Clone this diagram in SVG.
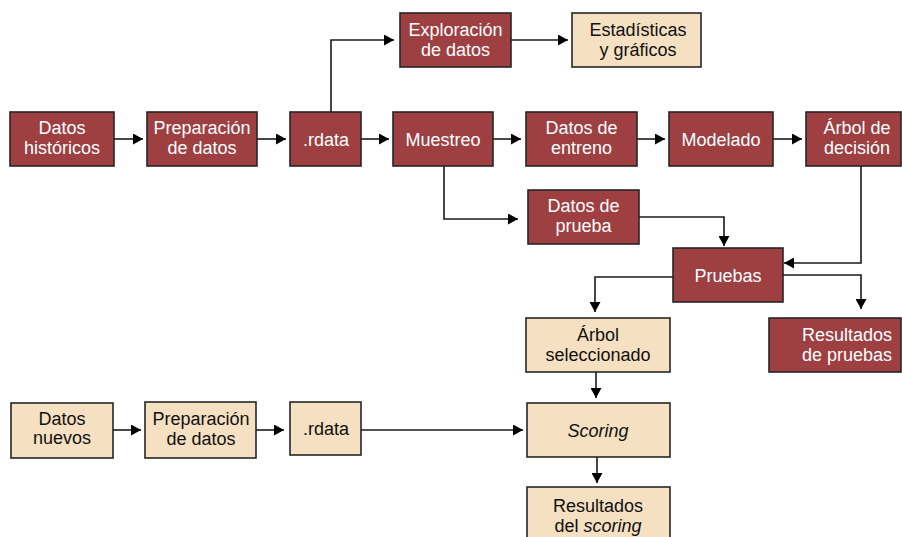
<svg xmlns="http://www.w3.org/2000/svg" width="902" height="537" viewBox="0 0 902 537">
  <style>
    .box { stroke: #262626; stroke-width: 1.6; }
    .red { fill: #9e3f42; }
    .sand { fill: #f5e0c1; }
    text { font-family: "Liberation Sans", Arial, Helvetica, sans-serif; font-size: 18px; text-anchor: middle; }
    .red + text, .lt { fill: #ffffff; }
    .dk { fill: #111111; }
    .it { font-style: italic; }
    .wire { fill: none; stroke: #1a1a1a; stroke-width: 1.6; }
  </style>
  <defs>
    <marker id="head" markerWidth="10" markerHeight="11" refX="10" refY="5.5" orient="auto" markerUnits="userSpaceOnUse">
      <path d="M0,0 L10,5.5 L0,11 Z" fill="#000000"/>
    </marker>
  </defs>
  <rect width="902" height="537" fill="#ffffff"/>

  <!-- connectors -->
  <g id="connectors" class="wire" marker-end="url(#head)">
    <path d="M114,139 H143"/>
    <path d="M257,139 H286"/>
    <path d="M361,139 H389"/>
    <path d="M331,112 V40 H394"/>
    <path d="M511,40 H568"/>
    <path d="M493,139 H521"/>
    <path d="M637,139 H665"/>
    <path d="M773,139 H802"/>
    <path d="M444,166 V219 H518"/>
    <path d="M639,217 H724 V246"/>
    <path d="M861,166 V263 H784"/>
    <path d="M673,277 H595 V312"/>
    <path d="M783,275 H861 V309"/>
    <path d="M596,372 V398"/>
    <path d="M597,457 V483"/>
    <path d="M113,430 H141"/>
    <path d="M256,430 H284"/>
    <path d="M361,430 H523"/>
  </g>

  <!-- historical data pipeline -->
  <g id="datos-historicos">
    <rect class="box red" x="10" y="112" width="104" height="54"/>
    <text class="lt" x="62" y="134">Datos</text>
    <text class="lt" x="62" y="154">históricos</text>
  </g>
  <g id="preparacion-1">
    <rect class="box red" x="147" y="112" width="110" height="54"/>
    <text class="lt" x="202" y="134">Preparación</text>
    <text class="lt" x="202" y="154">de datos</text>
  </g>
  <g id="rdata-1">
    <rect class="box red" x="290" y="112" width="71" height="54"/>
    <text class="lt" x="326" y="145.5">.rdata</text>
  </g>
  <g id="exploracion">
    <rect class="box red" x="400" y="13" width="111" height="54"/>
    <text class="lt" x="455.5" y="35.5">Exploración</text>
    <text class="lt" x="455.5" y="55.5">de datos</text>
  </g>
  <g id="estadisticas">
    <rect class="box sand" x="572" y="13" width="129" height="54"/>
    <text class="dk" x="638" y="35.5">Estadísticas</text>
    <text class="dk" x="638" y="55.5">y gráficos</text>
  </g>
  <g id="muestreo">
    <rect class="box red" x="393" y="112" width="100" height="54"/>
    <text class="lt" x="443" y="145.5">Muestreo</text>
  </g>
  <g id="datos-entreno">
    <rect class="box red" x="526" y="112" width="111" height="54"/>
    <text class="lt" x="581.5" y="134">Datos de</text>
    <text class="lt" x="581.5" y="154">entreno</text>
  </g>
  <g id="modelado">
    <rect class="box red" x="669" y="112" width="104" height="54"/>
    <text class="lt" x="721" y="145.5">Modelado</text>
  </g>
  <g id="arbol-decision">
    <rect class="box red" x="806" y="112" width="95" height="54"/>
    <text class="lt" x="857" y="134">Árbol de</text>
    <text class="lt" x="857" y="154">decisión</text>
  </g>
  <g id="datos-prueba">
    <rect class="box red" x="528" y="190" width="111" height="54"/>
    <text class="lt" x="583.5" y="212">Datos de</text>
    <text class="lt" x="583.5" y="232">prueba</text>
  </g>
  <g id="pruebas">
    <rect class="box red" x="673" y="248" width="110" height="54"/>
    <text class="lt" x="728" y="281.5">Pruebas</text>
  </g>
  <g id="arbol-seleccionado">
    <rect class="box sand" x="526" y="318" width="144" height="54"/>
    <text class="dk" x="598" y="340.5">Árbol</text>
    <text class="dk" x="598" y="360.5">seleccionado</text>
  </g>
  <g id="resultados-pruebas">
    <rect class="box red" x="769" y="318" width="132" height="54"/>
    <text class="lt" x="847" y="340.5">Resultados</text>
    <text class="lt" x="847" y="360.5">de pruebas</text>
  </g>

  <!-- new data pipeline -->
  <g id="datos-nuevos">
    <rect class="box sand" x="11" y="403" width="102" height="55"/>
    <text class="dk" x="62" y="424.5">Datos</text>
    <text class="dk" x="62" y="444">nuevos</text>
  </g>
  <g id="preparacion-2">
    <rect class="box sand" x="145" y="402" width="111" height="56"/>
    <text class="dk" x="201" y="425">Preparación</text>
    <text class="dk" x="201" y="444.5">de datos</text>
  </g>
  <g id="rdata-2">
    <rect class="box sand" x="290" y="402" width="71" height="53"/>
    <text class="dk" x="326" y="435">.rdata</text>
  </g>
  <g id="scoring">
    <rect class="box sand" x="527" y="403" width="143" height="54"/>
    <text class="dk it" x="598" y="436.5">Scoring</text>
  </g>
  <g id="resultados-scoring">
    <rect class="box sand" x="527" y="487" width="143" height="60"/>
    <text class="dk" x="598" y="512">Resultados</text>
    <text class="dk" x="598" y="532">del <tspan class="it">scoring</tspan></text>
  </g>
</svg>
